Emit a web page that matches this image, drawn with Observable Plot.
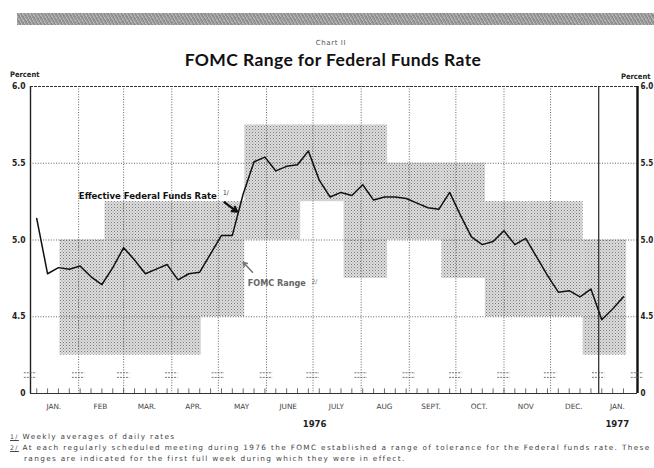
<!DOCTYPE html>
<html><head><meta charset="utf-8">
<script src="https://cdn.jsdelivr.net/npm/d3@7"></script>
<script src="https://cdn.jsdelivr.net/npm/@observablehq/plot@0.6"></script>
<style>
body{margin:0;background:#fff;}
#wrap{position:relative;width:654px;height:468px;overflow:hidden;background:#fff;font-family:"DejaVu Sans",sans-serif;color:#222;}
#band{position:absolute;left:17px;top:13px;width:640px;height:12px;background:repeating-linear-gradient(60deg,#8c8c8c 0 1px,#b4b4b4 1px 2px,#9a9a9a 2px 3px);}
#sup{position:absolute;left:0;width:662px;top:39px;text-align:center;font-size:7px;color:#555;letter-spacing:0.6px;}
#title{position:absolute;left:0;width:666px;top:49px;text-align:center;font-family:Lato,sans-serif;font-weight:bold;font-size:17.5px;color:#111;letter-spacing:0.4px;}
.pct{position:absolute;font-family:"DejaVu Sans Condensed","DejaVu Sans",sans-serif;font-weight:bold;font-size:7.5px;color:#222;}
#plot{position:absolute;left:0;top:0;}
.fn{position:absolute;font-size:7.3px;color:#444;letter-spacing:1.35px;white-space:nowrap;}
.fn u{font-size:6.3px;}
g[aria-label="month-labels"] text{letter-spacing:1.2px;}
g[aria-label="series-label"] text{letter-spacing:0.9px;}
g[aria-label="range-label"] text{letter-spacing:0.7px;}
g[aria-label="y-axis tick label"] text{font-weight:bold;}
</style></head><body><div id="wrap">
<div id="band"></div>
<div id="sup">Chart II</div>
<div id="title">FOMC Range for Federal Funds Rate</div>
<div class="pct" style="left:10px;top:70px;">Percent</div>
<div class="pct" style="left:621px;top:72px;">Percent</div>
<div id="plot"></div>
<div class="fn" style="left:10px;top:432px;"><u>1/</u> Weekly averages of daily rates</div>
<div class="fn" style="left:10px;top:443px;"><u>2/</u> At each regularly scheduled meeting during 1976 the FOMC established a range of tolerance for the Federal funds rate. These</div>
<div class="fn" style="left:24px;top:454px;">ranges are indicated for the first full week during which they were in effect.</div>
</div>
<script>
// ---- data ----
const weekDates = ["1976-01-05","1976-01-12","1976-01-19","1976-01-26","1976-02-02","1976-02-09","1976-02-16","1976-02-23","1976-03-01","1976-03-08","1976-03-15","1976-03-22","1976-03-29","1976-04-05","1976-04-12","1976-04-19","1976-04-26","1976-05-03","1976-05-10","1976-05-17","1976-05-24","1976-05-31","1976-06-07","1976-06-14","1976-06-21","1976-06-28","1976-07-05","1976-07-12","1976-07-19","1976-07-26","1976-08-02","1976-08-09","1976-08-16","1976-08-23","1976-08-30","1976-09-06","1976-09-13","1976-09-20","1976-09-27","1976-10-04","1976-10-11","1976-10-18","1976-10-25","1976-11-01","1976-11-08","1976-11-15","1976-11-22","1976-11-29","1976-12-06","1976-12-13","1976-12-20","1976-12-27","1977-01-03","1977-01-10","1977-01-17"];
const fundsRate = [5.14,4.78,4.82,4.81,4.83,4.76,4.71,4.82,4.95,4.87,4.78,4.81,4.84,4.74,4.78,4.79,4.91,5.03,5.03,5.30,5.51,5.54,5.45,5.48,5.49,5.58,5.39,5.28,5.31,5.29,5.36,5.26,5.28,5.28,5.27,5.24,5.21,5.20,5.31,5.16,5.02,4.97,4.99,5.06,4.97,5.01,4.89,4.77,4.66,4.67,4.63,4.68,4.48,4.55,4.63];

const rangeFrom = ["1976-01-20","1976-02-18","1976-03-17","1976-04-20","1976-05-18","1976-06-23","1976-07-21","1976-08-18","1976-09-22","1976-10-20","1976-11-17","1976-12-22"];
const rangeTo   = ["1976-02-18","1976-03-17","1976-04-20","1976-05-18","1976-06-23","1976-07-21","1976-08-18","1976-09-22","1976-10-20","1976-11-17","1976-12-22","1977-01-19"];
const rangeLow  = [4.25,4.25,4.25,4.5,5.0,5.25,4.75,5.0,4.75,4.5,4.5,4.25];
const rangeHigh = [5.0,5.25,5.25,5.25,5.75,5.75,5.75,5.5,5.5,5.25,5.25,5.0];

const monthLabels = ["JAN.","FEB","MAR.","APR.","MAY","JUNE","JULY","AUG","SEPT.","OCT.","NOV","DEC.","JAN."];
const monthLabelDates = ["1976-01-16","1976-02-15","1976-03-16","1976-04-15","1976-05-16","1976-06-15","1976-07-16","1976-08-16","1976-09-15","1976-10-16","1976-11-15","1976-12-16","1977-01-13"];
const monthStarts = ["1976-02-01","1976-03-01","1976-04-01","1976-05-01","1976-06-01","1976-07-01","1976-08-01","1976-09-01","1976-10-01","1976-11-01","1976-12-01"];
const yearStart = "1977-01-01";
const axisStart = "1976-01-01", axisEnd = "1977-01-26";
const yearLabels = ["1976","1977"];
const yearLabelDates = ["1976-07-02","1977-01-13"];

const yTicks = [4.0,4.5,5.0,5.5,6.0];
const yTickLabels = ["0","4.5","5.0","5.5","6.0"];

const seriesLabel = {text:"Effective Federal Funds Rate", date:"1976-04-30", value:5.29};
const seriesNote = {text:"1/", date:"1976-05-04", value:5.31};
const seriesArrow = {from:"1976-05-05", fromV:5.245, to:"1976-05-13", toV:5.185};
const rangeLabel = {text:"FOMC Range", date:"1976-05-20", value:4.72};
const rangeNote = {text:"2/", date:"1976-06-30", value:4.73};
const rangeArrow = {from:"1976-05-23", fromV:4.79, to:"1976-05-17", toV:4.855};

// ---- build ----
const P = d3.utcParse("%Y-%m-%d");
const weekly = weekDates.map((d,i)=>({date:P(d), rate:fundsRate[i]}));
const ranges = rangeFrom.map((d,i)=>({x1:P(d), x2:P(rangeTo[i]), y1:rangeLow[i], y2:rangeHigh[i]}));
const months = monthLabels.map((t,i)=>({t, date:P(monthLabelDates[i])}));
const years = yearLabels.map((t,i)=>({t, date:P(yearLabelDates[i])}));
const breakDates = [axisStart, ...monthStarts, yearStart, axisEnd].map(P);
const day = 864e5;

const fontC = "'DejaVu Sans Condensed','DejaVu Sans',sans-serif";

const svg = Plot.plot({
  width: 654, height: 468,
  marginLeft: 30, marginRight: 17, marginTop: 86, marginBottom: 75,
  style: {fontFamily: fontC, fontSize: "8.5px", background: "transparent", color:"#222"},
  x: {type:"utc", domain:[P(axisStart), P(axisEnd)], axis:null},
  y: {domain:[4.0, 6.0], axis:null},
  marks: [
    Plot.rect(ranges, {x1:"x1", x2:"x2", y1:"y1", y2:"y2", fill:"url(#stip)"}),
    // horizontal grid
    Plot.ruleY([4.5,5.0,5.5], {stroke:"#555", strokeWidth:0.9, strokeDasharray:"1,1.6"}),
    Plot.ruleY([6.0], {stroke:"#333", strokeWidth:1, strokeDasharray:"3,1"}),
    // vertical grid
    Plot.ruleX(monthStarts.map(P), {stroke:"#555", strokeWidth:0.9, strokeDasharray:"1,1.6"}),
    Plot.ruleX([P(yearStart)], {stroke:"#333", strokeWidth:1.3}),
    // frame
    Plot.ruleX([P(axisStart)], {stroke:"#222", strokeWidth:1.4}),
    Plot.ruleX([P(axisEnd)], {stroke:"#111", strokeWidth:2.4}),
    Plot.ruleY([4.0], {stroke:"#333", strokeWidth:1.1}),
    // weekly ticks
    Plot.ruleX(weekly, {x:"date", y1:4.0, y2:4.03, stroke:"#444", strokeWidth:0.8}),
    // break marks
    Plot.ruleY(breakDates, {y:4.135, x1:d=>new Date(+d-4*day), x2:d=>new Date(+d+4*day), stroke:"#555", strokeWidth:0.8, strokeDasharray:"2,1"}),
    Plot.ruleY(breakDates, {y:4.105, x1:d=>new Date(+d-4*day), x2:d=>new Date(+d+4*day), stroke:"#555", strokeWidth:0.8, strokeDasharray:"2,1"}),
    // series
    Plot.line(weekly, {x:"date", y:"rate", stroke:"#111", strokeWidth:1.5}),
    // annotations
    Plot.text([seriesLabel], {x:d=>P(d.date), y:"value", text:"text", textAnchor:"end", fontWeight:"bold", fontSize:9.5, fill:"#111", ariaLabel:"series-label"}),
    Plot.text([seriesNote], {x:d=>P(d.date), y:"value", text:"text", textAnchor:"start", fontSize:6.5, fill:"#333"}),
    Plot.arrow([seriesArrow], {x1:d=>P(d.from), y1:"fromV", x2:d=>P(d.to), y2:"toV", stroke:"#111", strokeWidth:2.4, headLength:5}),
    Plot.text([rangeLabel], {x:d=>P(d.date), y:"value", text:"text", textAnchor:"start", fontWeight:"bold", fontSize:9, fill:"#666", ariaLabel:"range-label"}),
    Plot.text([rangeNote], {x:d=>P(d.date), y:"value", text:"text", textAnchor:"start", fontSize:6.5, fill:"#666"}),
    Plot.arrow([rangeArrow], {x1:d=>P(d.from), y1:"fromV", x2:d=>P(d.to), y2:"toV", stroke:"#777", strokeWidth:1.6, headLength:4}),
    // y axes
    Plot.axisY({anchor:"left", ticks:yTicks, tickSize:0, tickPadding:5, tickFormat:d=>yTickLabels[yTicks.indexOf(d)], fontSize:8.5, fill:"#222"}),
    Plot.axisY({anchor:"right", ticks:yTicks, tickSize:0, tickPadding:3, tickFormat:d=>yTickLabels[yTicks.indexOf(d)], fontSize:8, fill:"#222"}),
    // month & year labels
    Plot.text(months, {x:"date", y:4.0, text:"t", dy:13, fontSize:7.3, fill:"#444", fontFamily:"'DejaVu Sans',sans-serif", ariaLabel:"month-labels"}),
    Plot.text(years, {x:"date", y:4.0, text:"t", dy:30, fontSize:9.5, fontWeight:"bold", fill:"#222"})
  ]
});

const defs = document.createElementNS("http://www.w3.org/2000/svg","defs");
defs.innerHTML = '<pattern id="stip" width="3" height="3" patternUnits="userSpaceOnUse">' +
  '<rect width="3" height="3" fill="#dedede"/>' +
  '<rect x="0" y="0" width="1" height="1" fill="#777"/>' +
  '<rect x="1.5" y="1.5" width="1" height="1" fill="#999"/></pattern>';
svg.insertBefore(defs, svg.firstChild);
document.getElementById("plot").appendChild(svg);
</script>
</body></html>
